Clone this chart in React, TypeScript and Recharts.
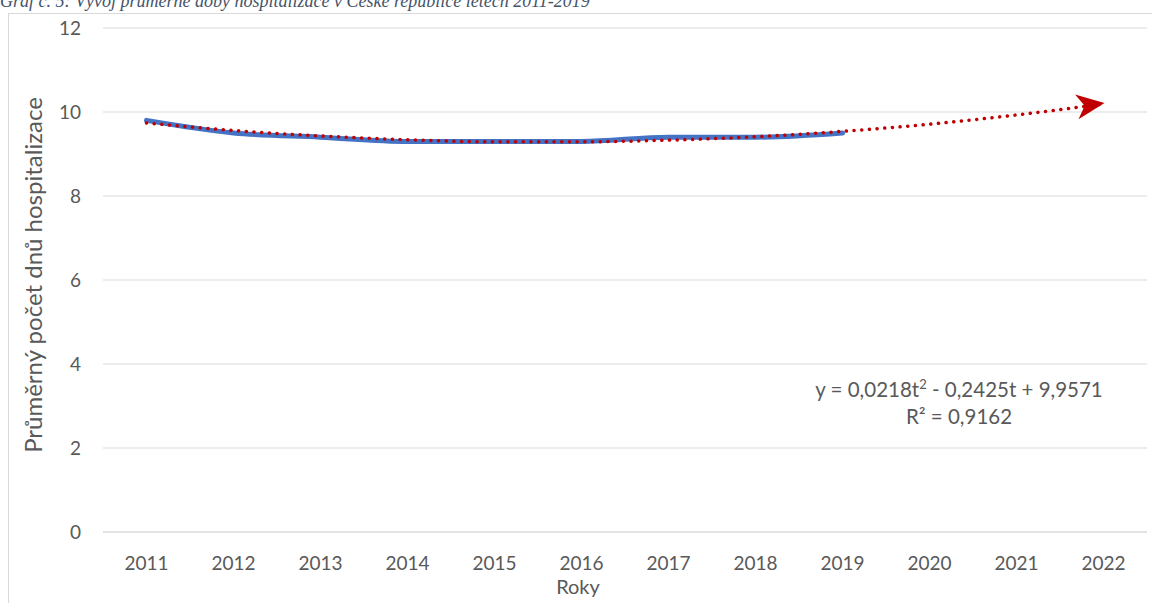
import { LineChart, Line, XAxis, YAxis, CartesianGrid } from "recharts";

const years = ["2011", "2012", "2013", "2014", "2015", "2016", "2017", "2018", "2019", "2020", "2021", "2022"];
const avgDays = [9.8, 9.5, 9.4, 9.3, 9.3, 9.3, 9.4, 9.4, 9.5, null, null, null];
const trend = [9.74, 9.56, 9.43, 9.34, 9.29, 9.29, 9.33, 9.41, 9.54, 9.71, 9.93, 10.19];
const yTicks = [0, 2, 4, 6, 8, 10, 12];

const data = years.map((year, i) => ({ year, days: avgDays[i], trend: trend[i] }));

const FONT = "Lato, 'Open Sans', sans-serif";
const GREY = "#595959";

// arrow head at the end of the trendline
const ArrowDot = (props: any) => {
  const { cx, cy, index } = props;
  if (index !== years.length - 1 || cx == null || cy == null) return null;
  return (
    <g transform={`translate(${cx + 1},${cy - 1}) rotate(-8)`}>
      <path d="M0,0 L-28,-12.5 L-20,0 L-28,12.5 Z" fill="#C00000" />
    </g>
  );
};

const App = () => {
  return (
    <div style={{ position: "fixed", left: 0, top: 0, width: 1152, height: 603, overflow: "hidden", background: "#fff" }}>
      <div
        style={{
          position: "absolute",
          left: 0,
          top: -9,
          fontFamily: "'Liberation Serif', serif",
          fontStyle: "italic",
          fontSize: 18,
          color: "#44546A",
          whiteSpace: "nowrap",
        }}
      >
        Graf č. 5: Vývoj průměrné doby hospitalizace v České republice letech 2011-2019
      </div>
      <div
        style={{
          position: "absolute",
          left: 8,
          top: 13,
          width: 1200,
          height: 700,
          borderLeft: "1px solid #d9d9d9",
          borderTop: "1px solid #d9d9d9",
        }}
      />
      <div style={{ position: "absolute", left: 0, top: 0 }}>
        <LineChart width={1152} height={603} data={data} margin={{ top: 28, right: 5, left: 0, bottom: 0 }}>
          <CartesianGrid vertical={false} stroke="#d9d9d9" strokeWidth={1} />
          <XAxis
            dataKey="year"
            height={71}
            padding={{ left: 43.5, right: 43.5 }}
            tickLine={false}
            axisLine={{ stroke: "#d9d9d9" }}
            tickSize={0}
            tickMargin={25}
            interval={0}
            tick={{ fill: GREY, fontSize: 19, fontFamily: FONT }}
          />
          <YAxis
            width={103}
            domain={[0, 12]}
            ticks={yTicks}
            axisLine={false}
            tickLine={false}
            tickSize={0}
            tickMargin={22}
            tick={{ fill: GREY, fontSize: 19, fontFamily: FONT }}
          />
          <Line
            type="monotone"
            dataKey="days"
            stroke="#4472C4"
            strokeWidth={5}
            strokeLinecap="round"
            dot={false}
            activeDot={false}
            connectNulls={false}
            isAnimationActive={false}
          />
          <Line
            type="monotone"
            dataKey="trend"
            stroke="#C00000"
            strokeWidth={3.5}
            strokeDasharray="0.1 7.6"
            strokeLinecap="round"
            dot={<ArrowDot />}
            activeDot={false}
            isAnimationActive={false}
          />
        </LineChart>
      </div>
      <div
        style={{
          position: "absolute",
          left: 33 - 220,
          top: 275 - 16,
          width: 440,
          height: 32,
          lineHeight: "32px",
          textAlign: "center",
          transform: "rotate(-90deg)",
          transformOrigin: "center",
          fontFamily: FONT,
          fontSize: 24,
          color: GREY,
          whiteSpace: "nowrap",
        }}
      >
        Průměrný počet dnů hospitalizace
      </div>
      <div
        style={{
          position: "absolute",
          left: 578,
          top: 574,
          transform: "translateX(-50%)",
          fontFamily: FONT,
          fontSize: 20,
          color: GREY,
        }}
      >
        Roky
      </div>
      <div
        style={{
          position: "absolute",
          left: 959,
          top: 376,
          transform: "translateX(-50%)",
          fontFamily: FONT,
          fontSize: 20.5,
          lineHeight: "27px",
          color: GREY,
          textAlign: "center",
          whiteSpace: "nowrap",
        }}
      >
        y = 0,0218t<sup style={{ fontSize: 13, lineHeight: 0 }}>2</sup> - 0,2425t + 9,9571
        <br />
        R² = 0,9162
      </div>
    </div>
  );
};

export default App;
